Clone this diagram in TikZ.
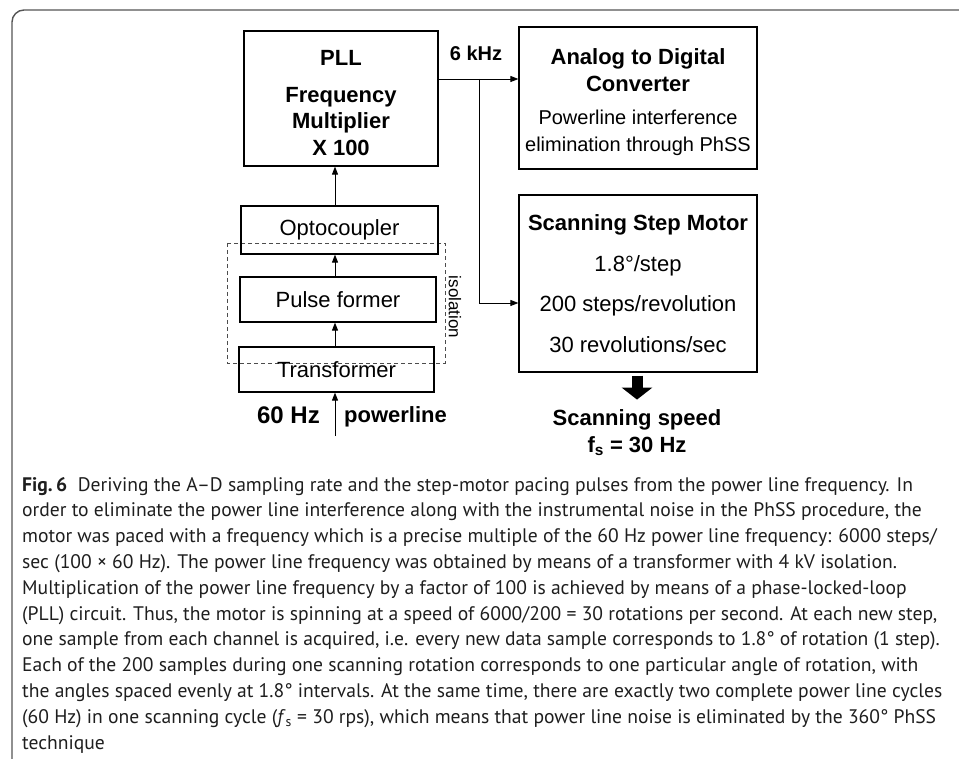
\documentclass[tikz,border=0pt]{standalone}
\usepackage{fontspec}
\setmainfont{PT Sans}
\newfontfamily\arialfont{Liberation Sans}
\usetikzlibrary{arrows.meta, positioning}

\definecolor{framegray}{RGB}{85,85,85}
\definecolor{captext}{RGB}{30,30,30}

\tikzset{
  blk/.style={draw, line width=1.2pt, align=center, inner sep=0pt,
    font=\arialfont\fontsize{22}{26.5}\selectfont},
  lbl/.style={font=\arialfont\bfseries\fontsize{22}{27}\selectfont, inner sep=0pt},
  sig/.style={line width=0.9pt, -{Triangle[length=8pt,width=6pt]}},
  isodash/.style={dashed, dash pattern=on 4pt off 3pt, line width=0.8pt, black!70},
}

\begin{document}
\begin{tikzpicture}[x=1pt, y=-1pt]
    \useasboundingbox (0,0) rectangle (959,759);

    % frame round the figure
    \draw[framegray, line width=1.4pt, rounded corners=12pt] (12,775) -- (12,10) -- (975,10);

    % isolation barrier
    \draw[isodash] (227,243) rectangle (445,363);
    \node[font=\arialfont\fontsize{17}{20}\selectfont, rotate=-90, inner sep=0pt] (iso) at (455,307) {isolation};

    % left chain: powerline up to the PLL
    \node[blk, minimum width=194pt, minimum height=135pt] (pll) at (341,98.5)
        {\rule{0pt}{24pt}\textbf{PLL}\\[10pt]\textbf{Frequency}\\\textbf{Multiplier}\\\textbf{X 100}};
    \node[blk, minimum width=197pt, minimum height=48pt] (opto) at (339.5,230) {Optocoupler};
    \node[blk, minimum width=196pt, minimum height=45pt] (pulse) at (338,299.5) {Pulse former};
    \node[blk, minimum width=195pt, minimum height=45pt] (xfmr) at (336.5,369.5) {Transformer};

    \coordinate (mains) at (335,436);
    \draw[sig] (mains) -- (xfmr.south -| mains);
    \draw[sig] (xfmr.north -| mains) -- (pulse.south -| mains);
    \draw[sig] (pulse.north -| mains) -- (opto.south -| mains);
    \draw[sig] (opto.north -| mains) -- (pll.south -| mains);

    \node[lbl, font=\arialfont\bfseries\fontsize{24}{28}\selectfont, anchor=base east] (hz) at (320,424) {60 Hz};
    \node[lbl, anchor=base west] (pline) at (344,422) {powerline};

    % right side: converter and motor
    \node[blk, minimum width=238pt, minimum height=142pt] (adc) at (638,98)
        {\rule{0pt}{24pt}\textbf{Analog to Digital}\\\textbf{Converter}\\[7pt]
         {\fontsize{20}{26}\selectfont Powerline interference}\\
         {\fontsize{20}{26}\selectfont elimination through PhSS}};
    \node[blk, minimum width=238pt, minimum height=177pt] (motor) at (638,283.5)
        {\textbf{Scanning Step Motor}\\[14pt]1.8°/step\\[14pt]200 steps/revolution\\[14pt]30 revolutions/sec};

    \coordinate (split) at (479,79);
    \coordinate (tap) at (479,303);
    \draw[sig] (pll.east |- split) -- (adc.west |- split);
    \draw[line width=0.9pt] (split) -- (tap);
    \draw[sig] (tap) -- (motor.west |- tap);
    \node[lbl, font=\arialfont\bfseries\fontsize{20}{24}\selectfont] (khz) at (476,53) {6 kHz};

    % output of the motor
    \node[lbl, align=center, anchor=north] (speed) at (637,409)
        {Scanning speed\\f\textsubscript{s} = 30 Hz};
    \draw[line width=11pt, -{Triangle[length=12pt,width=30pt]}] (motor.south -| speed) ++(0,3) -- ++(0,24);

    % caption
    \node[anchor=base west, align=left, inner sep=0pt, text=captext,
          font=\fontsize{19.6}{25.8}\selectfont] (cap) at (22,749)
        {\textbf{Fig.\,6}\hspace{0.55em}Deriving the A–D sampling rate and the step-motor pacing pulses from the power line frequency. In\\
         order to eliminate the power line interference along with the instrumental noise in the PhSS procedure, the\\
         motor was paced with a frequency which is a precise multiple of the 60 Hz power line frequency: 6000 steps/\\
         sec (100 × 60 Hz). The power line frequency was obtained by means of a transformer with 4 kV isolation.\\
         Multiplication of the power line frequency by a factor of 100 is achieved by means of a phase-locked-loop\\
         (PLL) circuit. Thus, the motor is spinning at a speed of 6000/200 = 30 rotations per second. At each new step,\\
         one sample from each channel is acquired, i.e. every new data sample corresponds to 1.8° of rotation (1 step).\\
         Each of the 200 samples during one scanning rotation corresponds to one particular angle of rotation, with\\
         the angles spaced evenly at 1.8° intervals. At the same time, there are exactly two complete power line cycles\\
         (60 Hz) in one scanning cycle (\textit{f}\textsubscript{s} = 30 rps), which means that power line noise is eliminated by the 360° PhSS\\
         technique};
\end{tikzpicture}
\end{document}
